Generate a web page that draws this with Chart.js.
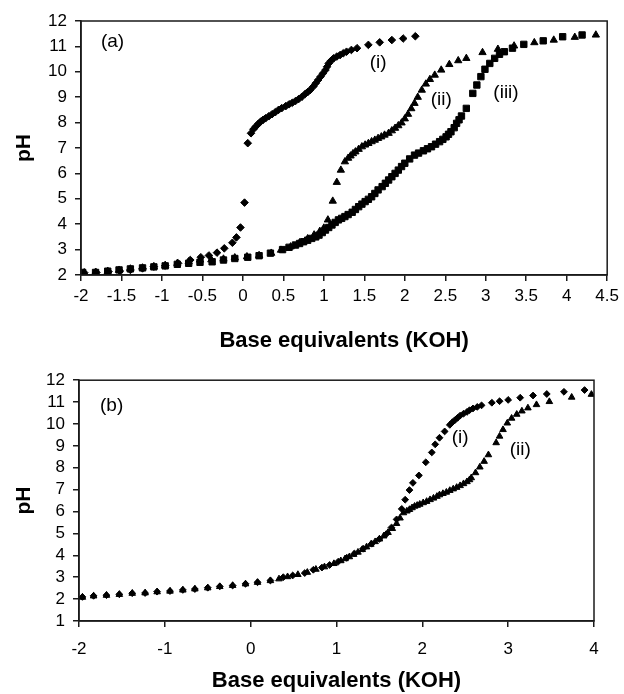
<!DOCTYPE html>
<html>
<head>
<meta charset="utf-8">
<script src="https://cdn.jsdelivr.net/npm/chart.js@4.4.1/dist/chart.umd.min.js"></script>
<style>
  html, body { margin: 0; padding: 0; background: #fff; }
  #wrapA { position: absolute; left: 0; top: 0; width: 624px; height: 362px; }
  #wrapB { position: absolute; left: 0; top: 362px; width: 624px; height: 332px; }
</style>
</head>
<body>
<div id="wrapA"><canvas id="chartA"></canvas></div>
<div id="wrapB"><canvas id="chartB"></canvas></div>
<script>
// ---- panel (a) ----
const aDiamondX = [-1.96, -1.81, -1.66, -1.52, -1.39, -1.24, -1.10, -0.96, -0.80, -0.65, -0.52, -0.42, -0.32, -0.23, -0.13, -0.08, -0.03, 0.02,
  0.06, 0.10, 0.13, 0.16, 0.19, 0.22, 0.25, 0.28, 0.32, 0.36, 0.40, 0.44, 0.48, 0.53, 0.57, 0.61, 0.65, 0.69, 0.73, 0.77, 0.80, 0.83,
  0.87, 0.90, 0.93, 0.96, 0.99, 1.02, 1.04, 1.06, 1.09, 1.12, 1.16, 1.20, 1.24, 1.28, 1.34, 1.41, 1.55, 1.69, 1.84, 1.98, 2.13];
const aDiamondY = [2.09, 2.10, 2.13, 2.16, 2.20, 2.26, 2.33, 2.37, 2.46, 2.59, 2.70, 2.77, 2.88, 3.05, 3.27, 3.48, 3.87, 4.85,
  7.19, 7.58, 7.74, 7.85, 7.95, 8.04, 8.11, 8.17, 8.25, 8.33, 8.41, 8.50, 8.57, 8.65, 8.72, 8.78, 8.85, 8.93, 9.02, 9.13, 9.20, 9.28,
  9.42, 9.55, 9.68, 9.81, 9.94, 10.07, 10.20, 10.33, 10.44, 10.53, 10.60, 10.66, 10.73, 10.79, 10.86, 10.93, 11.06, 11.16, 11.25, 11.31, 11.40];

const aTriangleX = [-1.96, -1.82, -1.67, -1.53, -1.39, -1.24, -1.10, -0.96, -0.81, -0.67, -0.53, -0.39, -0.24, -0.10, 0.05, 0.20, 0.35,
  0.47, 0.59, 0.70, 0.80, 0.88, 0.95, 1.00, 1.05, 1.11, 1.16, 1.21, 1.26, 1.30, 1.33, 1.36, 1.39, 1.43, 1.47, 1.51, 1.55, 1.59, 1.63,
  1.67, 1.71, 1.75, 1.80, 1.84, 1.88, 1.92, 1.96, 2.00, 2.04, 2.08, 2.12, 2.16, 2.21, 2.26, 2.31, 2.37, 2.45, 2.55, 2.66, 2.76, 2.96,
  3.15, 3.35, 3.60, 3.84, 4.10, 4.36];
const aTriangleY = [2.09, 2.11, 2.15, 2.19, 2.24, 2.28, 2.33, 2.38, 2.46, 2.52, 2.59, 2.60, 2.63, 2.68, 2.72, 2.77, 2.86,
  2.98, 3.11, 3.27, 3.43, 3.58, 3.72, 3.85, 4.17, 4.91, 5.65, 6.13, 6.46, 6.60, 6.69, 6.78, 6.85, 6.95, 7.05, 7.12, 7.18, 7.25, 7.31,
  7.38, 7.44, 7.51, 7.58, 7.68, 7.78, 7.88, 7.99, 8.15, 8.33, 8.55, 8.76, 9.00, 9.28, 9.52, 9.70, 9.87, 10.07, 10.29, 10.44, 10.53, 10.76,
  10.89, 11.02, 11.15, 11.25, 11.36, 11.45];

const aSquareX = [-1.98, -1.82, -1.67, -1.53, -1.39, -1.24, -1.10, -0.96, -0.81, -0.67, -0.53, -0.38, -0.24, -0.10, 0.06, 0.20, 0.34,
  0.49, 0.57, 0.65, 0.70, 0.75, 0.80, 0.85, 0.90, 0.94, 0.98, 1.02, 1.06, 1.10, 1.14, 1.18, 1.22, 1.26, 1.30, 1.35, 1.39, 1.43, 1.47,
  1.51, 1.55, 1.59, 1.63, 1.67, 1.72, 1.76, 1.80, 1.84, 1.88, 1.92, 1.96, 2.00, 2.06, 2.12, 2.17, 2.23, 2.28, 2.33, 2.38, 2.43, 2.47,
  2.51, 2.54, 2.57, 2.61, 2.64, 2.67, 2.70, 2.76, 2.84, 2.89, 2.94, 2.99, 3.05, 3.11, 3.17, 3.23, 3.33, 3.47, 3.71, 3.95, 4.19];
const aSquareY = [2.10, 2.10, 2.15, 2.20, 2.24, 2.28, 2.32, 2.36, 2.42, 2.46, 2.50, 2.52, 2.59, 2.65, 2.70, 2.76, 2.86,
  3.00, 3.09, 3.18, 3.24, 3.31, 3.37, 3.44, 3.50, 3.57, 3.67, 3.77, 3.87, 3.97, 4.07, 4.17, 4.23, 4.30, 4.38, 4.47, 4.58, 4.69, 4.79,
  4.89, 4.98, 5.08, 5.21, 5.35, 5.48, 5.61, 5.74, 5.87, 6.00, 6.13, 6.27, 6.40, 6.57, 6.72, 6.80, 6.89, 6.97, 7.05, 7.15, 7.25, 7.34,
  7.44, 7.54, 7.64, 7.80, 7.97, 8.11, 8.26, 8.56, 9.15, 9.48, 9.81, 10.10, 10.33, 10.53, 10.69, 10.79, 10.93, 11.08, 11.22, 11.38, 11.45];

// ---- panel (b) ----
const bDiamondX = [-1.96, -1.83, -1.68, -1.53, -1.38, -1.23, -1.09, -0.94, -0.79, -0.65, -0.50, -0.36, -0.21, -0.06, 0.08, 0.23,
  0.38, 0.49, 0.63, 0.73, 0.83, 0.92, 1.02, 1.12, 1.21, 1.31, 1.41, 1.50, 1.58, 1.64, 1.70, 1.76, 1.80, 1.85, 1.89, 1.96, 2.04, 2.11,
  2.15, 2.20, 2.26, 2.32, 2.35, 2.38, 2.41, 2.44, 2.48, 2.52, 2.55, 2.59, 2.64, 2.69, 2.81, 2.90, 3.00, 3.14, 3.29, 3.45, 3.65, 3.89];
const bDiamondY = [2.10, 2.15, 2.18, 2.22, 2.27, 2.28, 2.34, 2.37, 2.42, 2.46, 2.52, 2.58, 2.62, 2.70, 2.77, 2.85,
  3.00, 3.08, 3.19, 3.34, 3.44, 3.56, 3.71, 3.89, 4.08, 4.30, 4.53, 4.75, 4.97, 5.27, 5.64, 6.12, 6.54, 6.98, 7.31, 7.65, 8.25, 8.70,
  9.07, 9.37, 9.66, 9.96, 10.08, 10.18, 10.28, 10.38, 10.47, 10.55, 10.63, 10.71, 10.78, 10.85, 10.97, 11.04, 11.10, 11.20, 11.30, 11.37, 11.47, 11.55];

const bTriangleX = [-1.96, -1.83, -1.68, -1.53, -1.38, -1.23, -1.09, -0.94, -0.79, -0.65, -0.50, -0.36, -0.21, -0.06, 0.08, 0.23,
  0.33, 0.43, 0.55, 0.66, 0.76, 0.86, 0.97, 1.05, 1.10, 1.15, 1.20, 1.25, 1.30, 1.35, 1.40, 1.45, 1.50, 1.55, 1.60, 1.65, 1.70, 1.74,
  1.78, 1.82, 1.85, 1.88, 1.91, 1.94, 1.97, 2.01, 2.05, 2.09, 2.13, 2.17, 2.20, 2.24, 2.28, 2.32, 2.36, 2.40, 2.44, 2.48, 2.52, 2.55,
  2.57, 2.62, 2.67, 2.72, 2.77, 2.86, 2.90, 2.94, 2.99, 3.04, 3.10, 3.16, 3.23, 3.33, 3.48, 3.74, 3.97];
const bTriangleY = [2.08, 2.14, 2.17, 2.21, 2.26, 2.28, 2.33, 2.36, 2.41, 2.46, 2.51, 2.57, 2.62, 2.69, 2.76, 2.84,
  2.92, 3.02, 3.12, 3.22, 3.36, 3.47, 3.62, 3.75, 3.84, 3.93, 4.04, 4.14, 4.26, 4.38, 4.50, 4.62, 4.74, 4.88, 5.04, 5.22, 5.45, 5.70,
  5.94, 6.02, 6.09, 6.17, 6.24, 6.28, 6.33, 6.40, 6.46, 6.54, 6.61, 6.69, 6.76, 6.82, 6.88, 6.96, 7.03, 7.10, 7.18, 7.27, 7.36, 7.45,
  7.54, 7.77, 8.03, 8.29, 8.59, 9.14, 9.44, 9.74, 10.04, 10.26, 10.44, 10.59, 10.73, 10.88, 11.02, 11.22, 11.35];

const FONT = "'Liberation Sans', Arial, Helvetica, sans-serif";

function pts(xs, ys) {
  return xs.map(function(x, i) { return { x: x, y: ys[i] }; });
}

function markers(xs, ys, style, radius) {
  return {
    data: pts(xs, ys),
    pointStyle: style,
    pointRadius: radius,
    pointHoverRadius: radius,
    pointBackgroundColor: '#000',
    pointBorderColor: '#000',
    pointBorderWidth: 1,
    showLine: false
  };
}

// box around the plot area
const frame = {
  id: 'frame',
  afterDraw: function(chart) {
    const a = chart.chartArea, c = chart.ctx;
    c.save();
    c.strokeStyle = '#1a1a1a';
    c.lineWidth = 1.5;
    c.strokeRect(a.left, a.top, a.right - a.left, a.bottom - a.top);
    c.restore();
  }
};

// curve labels placed in data coordinates
const notes = {
  id: 'notes',
  afterDatasetsDraw: function(chart, args, opts) {
    const c = chart.ctx;
    c.save();
    c.fillStyle = '#000';
    c.font = opts.size + 'px ' + FONT;
    c.textAlign = 'center';
    c.textBaseline = 'middle';
    opts.items.forEach(function(it) {
      c.fillText(it.text, chart.scales.x.getPixelForValue(it.x), chart.scales.y.getPixelForValue(it.y));
    });
    c.restore();
  }
};

function makeChart(id, datasets, o) {
  return new Chart(document.getElementById(id).getContext('2d'), {
    type: 'scatter',
    data: { datasets: datasets },
    plugins: [frame, notes],
    options: {
      responsive: true,
      maintainAspectRatio: false,
      animation: false,
      layout: { padding: o.padding },
      plugins: {
        legend: { display: false },
        tooltip: { enabled: false },
        notes: { items: o.notes, size: 19 }
      },
      scales: {
        x: {
          type: 'linear',
          min: o.xMin,
          max: o.xMax,
          afterFit: function(s) { s.height = o.xHeight; },
          border: { color: '#1a1a1a', width: 1.5 },
          grid: { drawOnChartArea: false, color: '#1a1a1a', lineWidth: 1.5, tickLength: 6 },
          ticks: {
            stepSize: o.xStep,
            padding: o.xTickPad,
            color: '#000',
            font: { family: FONT, size: 17 },
            maxRotation: 0,
            autoSkip: false,
            callback: function(v) { return String(v); }
          },
          title: {
            display: true,
            text: 'Base equivalents (KOH)',
            color: '#000',
            font: { family: FONT, size: 22, weight: 'bold' },
            padding: { top: 0, bottom: o.titlePad }
          }
        },
        y: {
          type: 'linear',
          min: o.yMin,
          max: o.yMax,
          afterFit: function(s) { s.width = o.yWidth; },
          border: { color: '#1a1a1a', width: 1.5 },
          grid: { drawOnChartArea: false, color: '#1a1a1a', lineWidth: 1.5, tickLength: 6 },
          ticks: {
            stepSize: 1,
            padding: 8,
            autoSkip: false,
            color: '#000',
            font: { family: FONT, size: 17 },
            callback: function(v) { return String(v); }
          },
          title: {
            display: true,
            text: 'pH',
            color: '#000',
            font: { family: FONT, size: 21, weight: 'bold' },
            padding: { top: 12, bottom: 0 }
          }
        }
      }
    }
  });
}

makeChart('chartA', [
  markers(aDiamondX, aDiamondY, 'rectRot', 3.8),
  markers(aTriangleX, aTriangleY, 'triangle', 4.2),
  markers(aSquareX, aSquareY, 'rect', 4.5)
], {
  padding: { top: 21, right: 15, left: 0, bottom: 0 },
  xMin: -2, xMax: 4.5, xStep: 0.5, yMin: 2, yMax: 12,
  xHeight: 87, yWidth: 81, xTickPad: 5, titlePad: 8,
  notes: [
    { text: '(a)', x: -1.61, y: 11.17 },
    { text: '(i)', x: 1.67, y: 10.35 },
    { text: '(ii)', x: 2.45, y: 8.89 },
    { text: '(iii)', x: 3.25, y: 9.17 }
  ]
});

makeChart('chartB', [
  markers(bDiamondX, bDiamondY, 'rectRot', 3.4),
  markers(bTriangleX, bTriangleY, 'triangle', 3.8)
], {
  padding: { top: 12, right: 30, left: 0, bottom: 0 },
  xMin: -2, xMax: 4, xStep: 1, yMin: 1, yMax: 12,
  xHeight: 73, yWidth: 79, xTickPad: 12, titlePad: 0,
  notes: [
    { text: '(b)', x: -1.62, y: 10.85 },
    { text: '(i)', x: 2.44, y: 9.38 },
    { text: '(ii)', x: 3.14, y: 8.8 }
  ]
});
</script>
</body>
</html>
